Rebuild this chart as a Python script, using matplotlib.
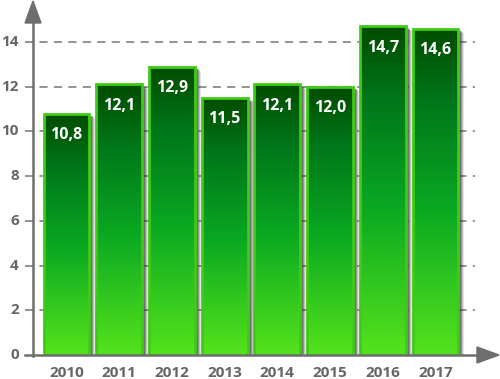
import matplotlib
matplotlib.use("Agg")
import matplotlib.pyplot as plt
import matplotlib.transforms as mtransforms
from matplotlib.colors import LinearSegmentedColormap
from matplotlib.patches import Rectangle, Polygon
import numpy as np

years = ["2010", "2011", "2012", "2013", "2014", "2015", "2016", "2017"]
values = [10.8, 12.1, 12.9, 11.5, 12.1, 12.0, 14.7, 14.6]
labels = ["10,8", "12,1", "12,9", "11,5", "12,1", "12,0", "14,7", "14,6"]
yticks = [0, 2, 4, 6, 8, 10, 12, 14]

plt.rcParams["font.family"] = ["Open Sans", "DejaVu Sans"]
W, H = 500, 379
fig = plt.figure(figsize=(5, 3.79), dpi=100)
# axes in pixel layout: y axis at x=33, zero at y=355 from top
ax = fig.add_axes([33 / W, 24 / H, (475 - 33) / W, (355 - 1.7) / H])
ax.set_xlim(-0.636, 7.75)
ax.set_ylim(0, 15.8)
ax.axis("off")

grad = LinearSegmentedColormap.from_list(
    "g", [(0, "#55e31c"), (0.45, "#0aa822"), (0.78, "#00761a"), (1.0, "#004c00")])
gimg = np.linspace(0, 1, 256).reshape(-1, 1)

for t in yticks[1:]:
    ax.axhline(t, xmin=-8 / 442, xmax=1.0, color="#8a8a8a", lw=1.3,
               ls=(0, (4.5, 3.5)), clip_on=False, zorder=1)
ylab = mtransforms.blended_transform_factory(fig.transFigure, ax.transData)
for t in yticks:
    ax.text(19 / W, t, str(t), transform=ylab, ha="right", va="center",
            fontsize=11, fontweight="bold", color="#666666")

bw = 0.87
for i, v in enumerate(values):
    x0 = i - bw / 2
    for k, (dx, a) in enumerate([(6, 0.12), (5, 0.2), (4, 0.3), (3, 0.35)]):
        sh = mtransforms.offset_copy(ax.transData, fig=fig, x=dx, y=-dx * 0.7, units="dots")
        ax.add_patch(Rectangle((x0, 0), bw, v, transform=sh, color="#303030",
                               alpha=a, lw=0, zorder=2))
    im = ax.imshow(gimg, cmap=grad, origin="lower", extent=[x0, x0 + bw, 0, v],
                   aspect="auto", zorder=3)
    r = Rectangle((x0, 0), bw, v, fill=False, ec="#3dcc14", lw=2, zorder=4)
    ax.add_patch(r)
    im.set_clip_path(r)
    ax.text(i, v - 0.95, labels[i], ha="center", va="center", fontsize=11.5,
            fontweight="bold", color="white", zorder=5)
    fig.text((66.5 + 52.7 * i) / W, 1 - 373 / H, years[i], ha="center", va="center",
             fontsize=11, fontweight="bold", color="#666666")

ax.set_xlim(-0.636, 7.75)
ax.set_ylim(0, 15.8)

# axes lines with arrowheads (figure pixel coords)
fig.add_artist(plt.Line2D([33 / W, 33 / W], [1 - 356 / H, 1 - 18 / H], color="#6e6e6e", lw=1.8))
fig.add_artist(plt.Line2D([25 / W, 482 / W], [1 - 355 / H, 1 - 355 / H], color="#6e6e6e", lw=1.8))
fig.add_artist(Polygon([[33 / W, 1 - 1 / H], [25 / W, 1 - 23 / H], [41 / W, 1 - 23 / H]],
                       closed=True, color="#6e6e6e", transform=fig.transFigure))
fig.add_artist(Polygon([[499 / W, 1 - 355 / H], [477 / W, 1 - 347 / H], [477 / W, 1 - 363 / H]],
                       closed=True, color="#6e6e6e", transform=fig.transFigure))

fig.savefig("out.png", dpi=100)
